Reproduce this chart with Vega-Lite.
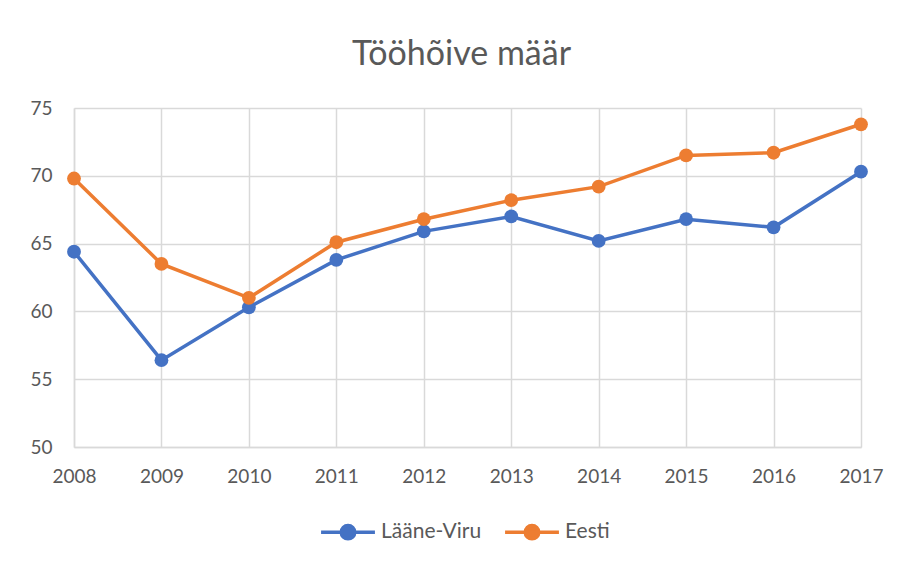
{
  "$schema": "https://vega.github.io/schema/vega-lite/v6.json",
  "autosize": {"type": "none"},
  "width": 787,
  "height": 339,
  "padding": {"left": 74, "top": 108, "right": 40, "bottom": 116},
  "background": "white",
  "title": {
    "text": "Tööhõive määr",
    "fontSize": 34,
    "font": "Lato",
    "fontWeight": "normal",
    "color": "#595959",
    "anchor": "middle",
    "baseline": "alphabetic",
    "offset": 0,
    "dx": -6
  },
  "data": {
    "values": [
      {"year": "2008", "series": "Lääne-Viru", "value": 64.4},
      {"year": "2009", "series": "Lääne-Viru", "value": 56.4},
      {"year": "2010", "series": "Lääne-Viru", "value": 60.3},
      {"year": "2011", "series": "Lääne-Viru", "value": 63.8},
      {"year": "2012", "series": "Lääne-Viru", "value": 65.9},
      {"year": "2013", "series": "Lääne-Viru", "value": 67.0},
      {"year": "2014", "series": "Lääne-Viru", "value": 65.2},
      {"year": "2015", "series": "Lääne-Viru", "value": 66.8},
      {"year": "2016", "series": "Lääne-Viru", "value": 66.2},
      {"year": "2017", "series": "Lääne-Viru", "value": 70.3},
      {"year": "2008", "series": "Eesti", "value": 69.8},
      {"year": "2009", "series": "Eesti", "value": 63.5},
      {"year": "2010", "series": "Eesti", "value": 61.0},
      {"year": "2011", "series": "Eesti", "value": 65.1},
      {"year": "2012", "series": "Eesti", "value": 66.8},
      {"year": "2013", "series": "Eesti", "value": 68.2},
      {"year": "2014", "series": "Eesti", "value": 69.2},
      {"year": "2015", "series": "Eesti", "value": 71.5},
      {"year": "2016", "series": "Eesti", "value": 71.7},
      {"year": "2017", "series": "Eesti", "value": 73.8}
    ]
  },
  "encoding": {
    "x": {
      "field": "year",
      "type": "ordinal",
      "scale": {"type": "point", "padding": 0},
      "axis": {
        "title": null,
        "labelAngle": 0,
        "labelFont": "Lato",
        "labelFontSize": 19,
        "labelColor": "#595959",
        "labelPadding": 20,
        "ticks": false,
        "domainColor": "#D9D9D9",
        "domainWidth": 1.5,
        "grid": true,
        "gridColor": "#D9D9D9",
        "gridWidth": 1.5
      }
    },
    "y": {
      "field": "value",
      "type": "quantitative",
      "scale": {"domain": [50, 75], "nice": false, "zero": false},
      "axis": {
        "title": null,
        "values": [50, 55, 60, 65, 70, 75],
        "labelFont": "Lato",
        "labelFontSize": 19,
        "labelColor": "#595959",
        "labelPadding": 22,
        "ticks": false,
        "domainColor": "#D9D9D9",
        "domainWidth": 1.5,
        "grid": true,
        "gridColor": "#D9D9D9",
        "gridWidth": 1.5
      }
    },
    "color": {
      "field": "series",
      "type": "nominal",
      "sort": ["Lääne-Viru", "Eesti"],
      "scale": {"domain": ["Lääne-Viru", "Eesti"], "range": ["#4472C4", "#ED7D31"]},
      "legend": {
        "title": null,
        "orient": "none",
        "legendX": 245,
        "legendY": 395,
        "padding": 0,
        "direction": "horizontal",
        "labelFont": "Lato",
        "labelFontSize": 21,
        "labelColor": "#595959",
        "symbolType": "M-1,0H1M0.25,0A0.25,0.25 0 1,1 -0.25,0A0.25,0.25 0 1,1 0.25,0",
        "symbolSize": 2900,
        "symbolStrokeWidth": 3.5,
        "columnPadding": 16,
        "labelOffset": 4,
        "encode": {
          "symbols": {
            "update": {
              "fill": {"scale": "color", "field": "value"},
              "stroke": {"scale": "color", "field": "value"}
            }
          }
        }
      }
    }
  },
  "layer": [
    {
      "mark": {"type": "line", "strokeWidth": 3.5}
    },
    {
      "mark": {"type": "point", "filled": true, "size": 190, "opacity": 1}
    }
  ],
  "config": {
    "view": {"stroke": null}
  }
}
